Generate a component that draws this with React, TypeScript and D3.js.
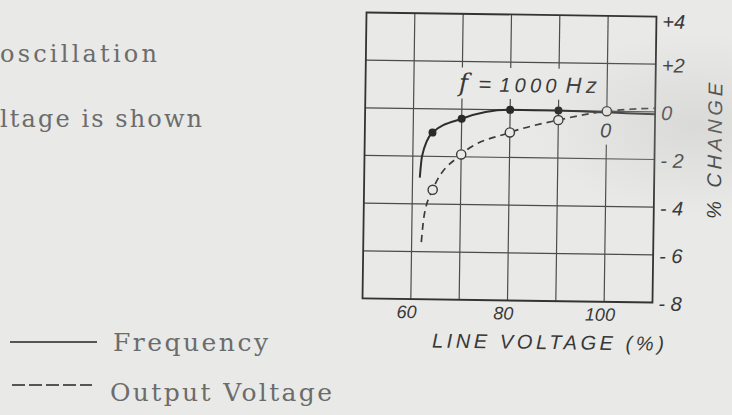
import React from "react";
import * as d3 from "d3";

// grid + axis values
const gridVolts = [60, 70, 80, 90, 100];
const gridChanges = [-6, -4, -2, 0, 2];
const xTickVolts = [60, 80, 100];
const yTickValues = [4, 2, 0, -2, -4, -6, -8];
const yTickLabels = ["+4", "+2", "0", "- 2", "- 4", "- 6", "- 8"];

// frequency (solid, filled dots)
const freqVolts = [64, 70, 80, 90];
const freqChange = [-1.0, -0.4, 0.0, 0.0];
const freqCurveVolts = [61.5, 61.9, 64, 70, 80, 90, 100, 110];
const freqCurveChange = [-2.9, -2.0, -1.0, -0.4, 0.0, 0.0, -0.05, -0.1];

// output voltage (dashed, open dots)
const outVolts = [64.2, 70, 80, 90, 100];
const outChange = [-3.4, -1.9, -0.95, -0.4, 0.0];
const outCurveVolts = [62, 62.5, 64.2, 70, 80, 90, 100, 110];
const outCurveChange = [-5.6, -4.5, -3.4, -1.9, -0.95, -0.4, 0.0, 0.15];

const W = 732;
const H = 415;
const paper = "#e9e9e7";
const ink = "#383838";
const typed = "#6c6c6c";
const hand = "'Liberation Sans', 'DejaVu Sans', sans-serif";

const x = d3.scaleLinear().domain([50, 110]).range([364.5, 654.5]);
const y = d3.scaleLinear().domain([-8, 4]).range([300.5, 14.5]);

const line = d3
  .line<[number, number]>()
  .x((d) => x(d[0]))
  .y((d) => y(d[1]))
  .curve(d3.curveMonotoneX);

const zip = (a: number[], b: number[]) => a.map((v, i) => [v, b[i]] as [number, number]);

export default function App() {
  const [x0, x1] = x.range();
  const [y0, y1] = y.range();
  return (
    <svg
      width={W}
      height={H}
      style={{ position: "absolute", left: 0, top: 0, display: "block" }}
    >
      <defs>
        <radialGradient id="smudge" cx="0.95" cy="0.3" r="0.22">
          <stop offset="0" stopColor="#bdbdbb" stopOpacity={0.35} />
          <stop offset="1" stopColor="#bdbdbb" stopOpacity={0} />
        </radialGradient>
      </defs>
      <rect width={W} height={H} fill={paper} />

      {/* typed body text */}
      <g fontFamily="'DejaVu Serif', serif" fontSize={24} fill={typed}>
        <text x={0} y={62} textLength={157} lengthAdjust="spacing">oscillation</text>
        <text x={0} y={127} textLength={202} lengthAdjust="spacing">ltage is shown</text>
      </g>

      {/* legend */}
      <line x1={10} x2={97} y1={342} y2={342} stroke="#555" strokeWidth={2} />
      <line x1={12} x2={92} y1={385} y2={385} stroke="#555" strokeWidth={2} strokeDasharray="13,4" />
      <g fontFamily="'DejaVu Serif', serif" fontSize={25} fill={typed}>
        <text x={113} y={351} textLength={155} lengthAdjust="spacing">Frequency</text>
        <text x={110} y={401} textLength={222} lengthAdjust="spacing">Output Voltage</text>
      </g>

      <g transform="rotate(0.8 510 157)">
        {/* grid */}
        {gridVolts.map((v) => (
          <line key={"v" + v} x1={x(v)} x2={x(v)} y1={y1} y2={y0} stroke="#4c4c4c" strokeWidth={1.2} />
        ))}
        {gridChanges.map((c) => (
          <line key={"h" + c} x1={x0} x2={x1} y1={y(c)} y2={y(c)} stroke="#4c4c4c" strokeWidth={1.2} />
        ))}
        <rect x={x0} y={y1} width={x1 - x0} height={y0 - y1} fill="none" stroke="#333" strokeWidth={1.8} />

        {/* gaps in grid behind annotations */}
        <rect x={x(69.3)} y={y(1.75)} width={x(90.7) - x(69.3)} height={y(0.45) - y(1.75)} fill={paper} />
        <rect x={x(98)} y={y(-0.2)} width={x(102) - x(98)} height={y(-1.4) - y(-0.2)} fill={paper} />

        {/* curves */}
        <path d={line(zip(freqCurveVolts, freqCurveChange)) || ""} fill="none" stroke="#2e2e2e" strokeWidth={2} />
        <path
          d={line(zip(outCurveVolts, outCurveChange)) || ""}
          fill="none"
          stroke="#3a3a3a"
          strokeWidth={1.7}
          strokeDasharray="7,5"
        />
        {freqVolts.map((v, i) => (
          <circle key={"f" + v} cx={x(v)} cy={y(freqChange[i])} r={4} fill="#2a2a2a" />
        ))}
        {outVolts.map((v, i) => (
          <circle key={"o" + v} cx={x(v)} cy={y(outChange[i])} r={4.6} fill={paper} stroke="#3a3a3a" strokeWidth={1.4} />
        ))}

        {/* annotations */}
        <text
          x={x(69.3)}
          y={y(0.75)}
          fontSize={22}
          fill={ink}
          fontStyle="italic"
          fontFamily={hand}
          textLength={138}
          lengthAdjust="spacing"
        >
          <tspan fontFamily="'DejaVu Serif', serif" fontSize={25}>f</tspan>
          <tspan dx={6}>=</tspan>
          <tspan dx={4} fontSize={20}>1000</tspan>
          <tspan dx={5}>Hz</tspan>
        </text>
        <text x={x(100) - 1} y={y(-0.8)} fontSize={20} fill={ink} fontStyle="italic" fontFamily={hand} textAnchor="middle" dominantBaseline="central">
          0
        </text>

        {/* right axis */}
        {yTickValues.map((v, i) => (
          <text
            key={"yt" + v}
            x={x1 + 6}
            y={y(v) + (v === 4 ? 5 : 1)}
            fontSize={20}
            fill={ink}
            fontStyle="italic"
            fontFamily={hand}
            dominantBaseline="central"
          >
            {yTickLabels[i]}
          </text>
        ))}
        <text
          transform={`translate(${x1 + 60}, ${y(-1.6)}) rotate(-90)`}
          textAnchor="middle"
          dominantBaseline="central"
          fontSize={20}
          fill={ink}
          fontStyle="italic"
          fontFamily={hand}
          textLength={136}
          lengthAdjust="spacing"
        >
          % CHANGE
        </text>

        {/* bottom axis */}
        {xTickVolts.map((v) => (
          <text
            key={"xt" + v}
            x={x(v) - 4}
            y={y0 + 19}
            fontSize={18}
            fill={ink}
            fontStyle="italic"
            fontFamily={hand}
            textAnchor="middle"
          >
            {v}
          </text>
        ))}
        <text
          x={x(88.5)}
          y={y0 + 48}
          fontSize={20}
          fill={ink}
          fontStyle="italic"
          fontFamily={hand}
          textAnchor="middle"
          textLength={232}
          lengthAdjust="spacing"
        >
          LINE VOLTAGE (%)
        </text>
      </g>
      <rect width={W} height={H} fill="url(#smudge)" pointerEvents="none" />
    </svg>
  );
}
